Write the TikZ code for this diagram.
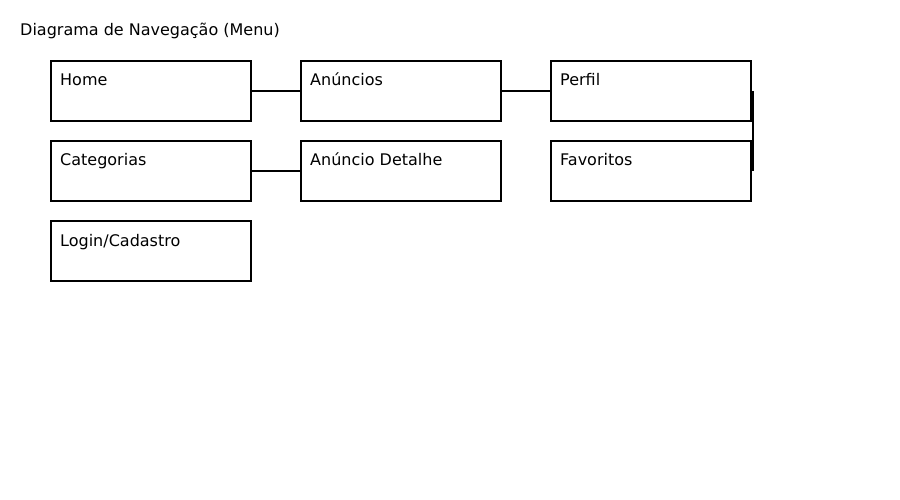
\documentclass[tikz,border=0pt]{standalone}
\usepackage{fontspec}
\setmainfont{DejaVu Sans}
\begin{document}
\begin{tikzpicture}[x=1pt,y=-1pt,
  screen/.style={draw=black,line width=2pt,minimum width=199.5pt,minimum height=59.5pt,inner sep=0pt,anchor=north west},
  lbl/.style={anchor=base west,inner sep=0pt,font=\fontsize{16}{19}\selectfont},
  link/.style={draw=black,line width=2pt}]
\useasboundingbox (0,0) rectangle (900,500);
\node[lbl] (title) at (20,36) {Diagrama de Navegação (Menu)};
\node[screen] (home) at (50.3,60.3) {};
\node[screen] (anun) at (300.3,60.3) {};
\node[screen] (perfil) at (550.3,60.3) {};
\node[screen] (cat) at (50.3,140.3) {};
\node[screen] (det) at (300.3,140.3) {};
\node[screen] (fav) at (550.3,140.3) {};
\node[screen] (login) at (50.3,220.3) {};
\node[lbl] at (60,86) {Home};
\node[lbl] at (310,86) {Anúncios};
\node[lbl] at (560,86) {Perfil};
\node[lbl] at (60,166) {Categorias};
\node[lbl] at (310,166) {Anúncio Detalhe};
\node[lbl] at (560,166) {Favoritos};
\node[lbl] at (60,246) {Login/Cadastro};
\draw[link] (home.east) -- (anun.west);
\draw[link] (anun.east) -- (perfil.west);
\draw[link] (cat.east) -- (det.west);
\draw[link] ([xshift=1.4pt]perfil.east) -- ([xshift=1.4pt]fav.east);
\end{tikzpicture}
\end{document}
